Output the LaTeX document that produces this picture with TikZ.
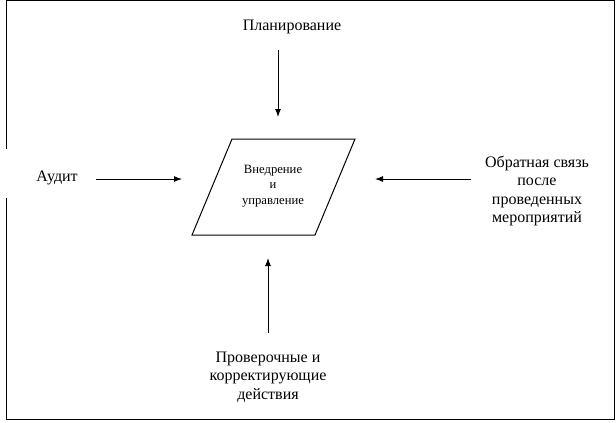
\documentclass[tikz,border=0pt]{standalone}
\usepackage{fontspec}
\setmainfont{Liberation Serif}
\usetikzlibrary{arrows.meta}

\begin{document}
\begin{tikzpicture}[x=0.75pt,y=-0.75pt,line width=0.75pt,
    arr/.style = {-{Latex[length=6pt,width=4.5pt]}},
    lbl/.style = {align=center,inner sep=0pt,font=\fontsize{12}{13.9}\selectfont}]
\useasboundingbox (0,0) rectangle (616,422);
\draw (6,149) -- (6,0.5) -- (614,0.5) -- (614,419.5) -- (6,419.5) -- (6,198);
\draw (232,139) -- (355,139) -- (315,235) -- (192,235) -- cycle;
\node[align=center,inner sep=0pt,font=\fontsize{9.5}{11.6}\selectfont] (impl) at (273,186)
    {Внедрение\\и\\управление};
\node[lbl] (plan) at (292,27) {Планирование};
\node[lbl] (audit) at (57,178) {Аудит};
\node[lbl] (feedback) at (537,191) {Обратная связь\\после\\проведенных\\мероприятий};
\node[lbl] (check) at (268,377) {Проверочные и\\корректирующие\\действия};
\coordinate (planA) at (278,50);   \coordinate (planB) at (278,117);
\coordinate (auditA) at (96,179);  \coordinate (auditB) at (182,179);
\coordinate (feedA) at (471,179);  \coordinate (feedB) at (375,179);
\coordinate (checkA) at (268,333); \coordinate (checkB) at (268,258);
\draw[arr] (planA) -- (planB);
\draw[arr] (auditA) -- (auditB);
\draw[arr] (feedA) -- (feedB);
\draw[arr] (checkA) -- (checkB);
\end{tikzpicture}
\end{document}
